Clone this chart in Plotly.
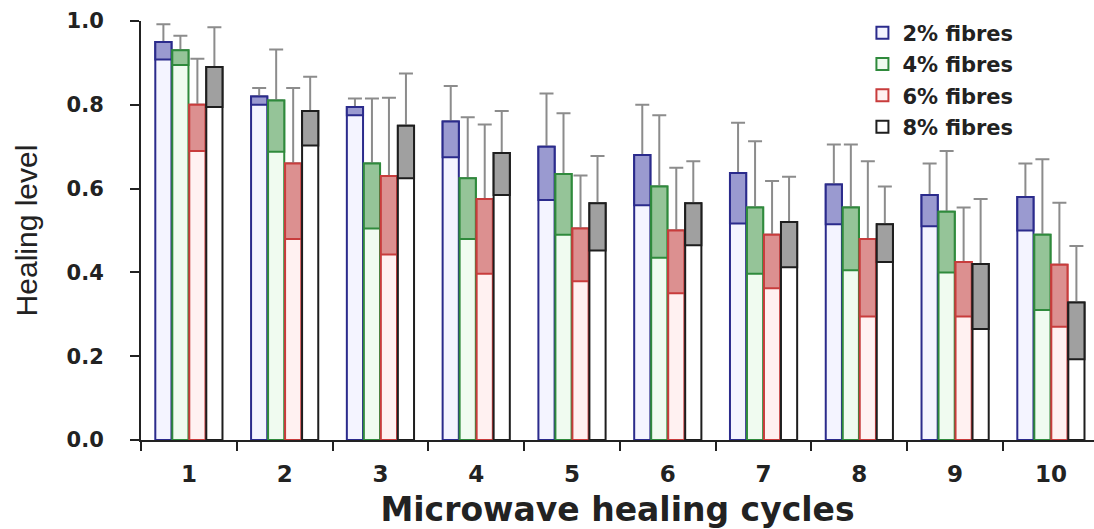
import plotly.graph_objects as go

cycles = ["1", "2", "3", "4", "5", "6", "7", "8", "9", "10"]
series_names = ["2% fibres", "4% fibres", "6% fibres", "8% fibres"]

mean_2 = [0.950, 0.820, 0.795, 0.760, 0.700, 0.680, 0.637, 0.610, 0.585, 0.580]
sd_2   = [0.042, 0.020, 0.020, 0.085, 0.127, 0.120, 0.120, 0.095, 0.075, 0.080]
mean_4 = [0.930, 0.810, 0.660, 0.625, 0.635, 0.605, 0.555, 0.555, 0.545, 0.490]
sd_4   = [0.035, 0.122, 0.155, 0.145, 0.145, 0.170, 0.158, 0.150, 0.145, 0.180]
mean_6 = [0.800, 0.660, 0.630, 0.575, 0.505, 0.500, 0.490, 0.480, 0.425, 0.418]
sd_6   = [0.110, 0.180, 0.187, 0.178, 0.126, 0.150, 0.128, 0.185, 0.130, 0.148]
mean_8 = [0.890, 0.785, 0.750, 0.685, 0.565, 0.565, 0.520, 0.515, 0.420, 0.328]
sd_8   = [0.095, 0.082, 0.125, 0.100, 0.113, 0.100, 0.108, 0.090, 0.155, 0.135]

means = [mean_2, mean_4, mean_6, mean_8]
sds = [sd_2, sd_4, sd_6, sd_8]

line_colors = ["#2b2b8c", "#2f8a3c", "#c83c3c", "#1e1e1e"]
shade_colors = ["#9a9ad0", "#95c498", "#dc9090", "#a0a0a0"]
base_colors = ["#f4f4ff", "#f0fbf0", "#fff1f1", "#ffffff"]

BOLD = "DejaVu Sans"
REG = "Liberation Sans"
TXT = "#222222"
bar_w = 0.169
step = 0.1775
offsets = [-2 * step, -step, 0.0, step]

fig = go.Figure()
for i in range(4):
    m = means[i]
    s = sds[i]
    fig.add_trace(go.Bar(
        x=cycles, y=m, name=series_names[i],
        offset=offsets[i] + (step - bar_w) / 2, width=bar_w,
        marker=dict(color=base_colors[i], line=dict(color=line_colors[i], width=2)),
        error_y=dict(type="data", symmetric=False, array=s, arrayminus=[0] * len(s),
                     color="#8c8c8c", thickness=2, width=7),
        legendgroup="g%d" % i, showlegend=True,
    ))
    fig.add_trace(go.Bar(
        x=cycles, y=s, base=[a - b for a, b in zip(m, s)],
        offset=offsets[i] + (step - bar_w) / 2, width=bar_w,
        marker=dict(color=shade_colors[i], line=dict(color=line_colors[i], width=2)),
        legendgroup="g%d" % i, showlegend=False, hoverinfo="skip",
    ))

fig.update_layout(
    width=1094, height=529,
    margin=dict(l=141, r=0, t=21, b=89, autoexpand=False),
    barmode="overlay",
    plot_bgcolor="white", paper_bgcolor="white",
    font=dict(family=REG, color=TXT),
    legend=dict(x=0.757, y=1.02, xanchor="left", yanchor="top",
                font=dict(family=BOLD, size=21, weight="bold", color=TXT),
                tracegroupgap=1, bgcolor="rgba(0,0,0,0)"),
    xaxis=dict(
        type="category", range=[-0.5, 9.45], automargin=False,
        showline=True, linecolor=TXT, linewidth=2,
        ticks="outside", tickson="boundaries", ticklen=9, tickwidth=2, tickcolor=TXT,
        ticklabelstandoff=12,
        tickfont=dict(family=BOLD, size=23, weight="bold", color=TXT),
        title=dict(text="Microwave healing cycles",
                   font=dict(family=BOLD, size=33, weight="bold", color=TXT),
                   standoff=16),
        showgrid=False,
    ),
    yaxis=dict(
        range=[0, 1.0], tickvals=[0, 0.2, 0.4, 0.6, 0.8, 1.0], tickformat=".1f",
        automargin=False,
        showline=True, linecolor=TXT, linewidth=2,
        ticks="outside", ticklen=9, tickwidth=2, tickcolor=TXT,
        ticklabelstandoff=22,
        tickfont=dict(family=BOLD, size=21, weight="bold", color=TXT),
        title=dict(text="Healing level",
                   font=dict(family=REG, size=30, color=TXT),
                   standoff=20),
        showgrid=False, zeroline=False,
    ),
)

fig.write_html("out.html", config={"displayModeBar": False},
               post_script="document.body.style.margin='0';document.body.style.overflow='hidden';")
